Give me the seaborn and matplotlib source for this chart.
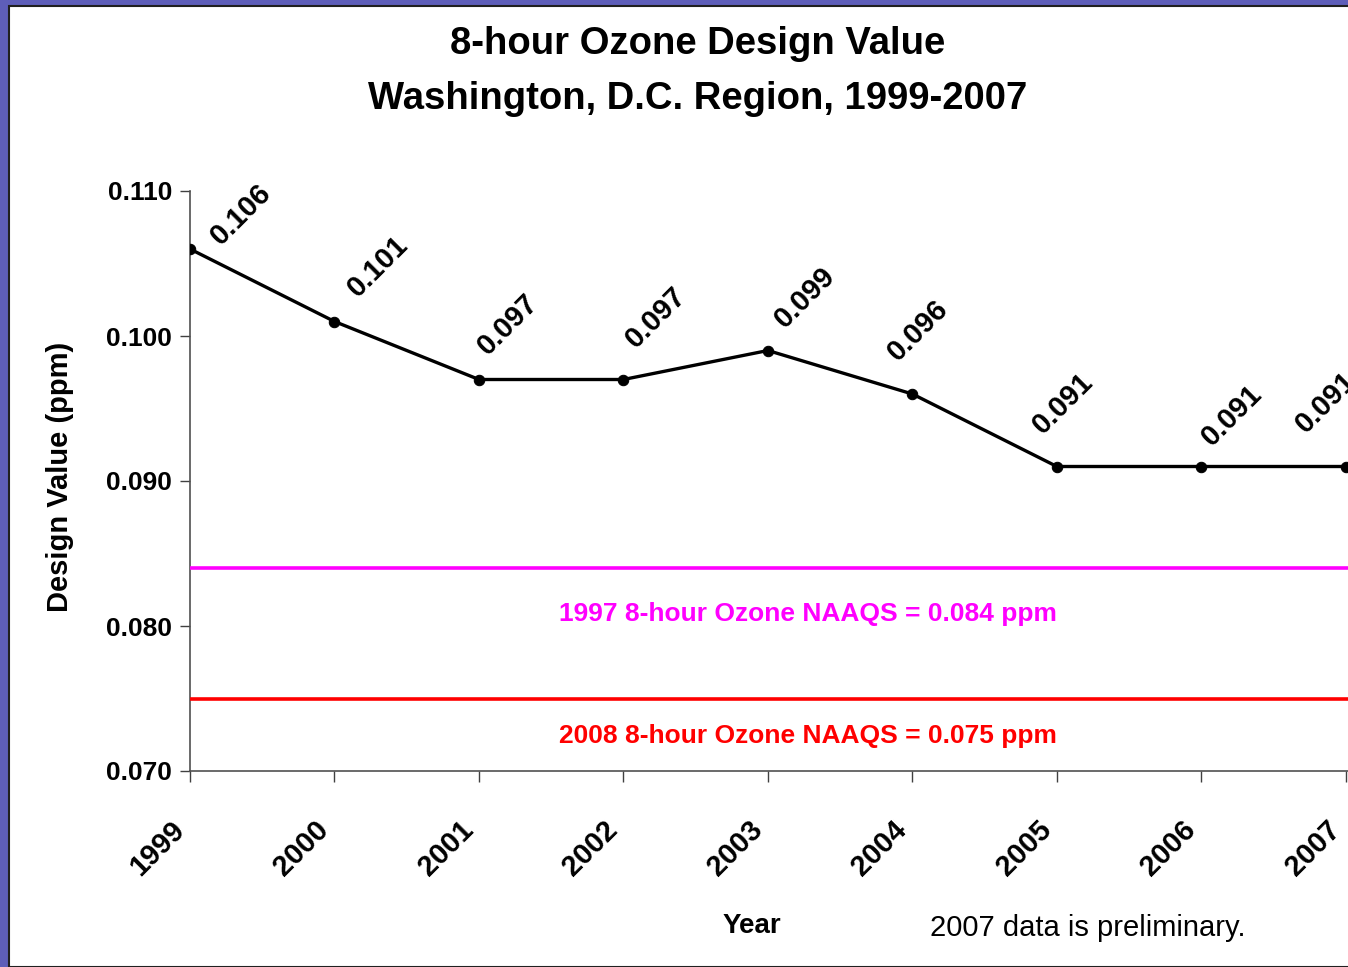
import matplotlib
matplotlib.use("Agg")
import matplotlib.pyplot as plt
from matplotlib.patches import Rectangle
import seaborn as sns
import pandas as pd

# Data
years = [1999, 2000, 2001, 2002, 2003, 2004, 2005, 2006, 2007]
design_values = [0.106, 0.101, 0.097, 0.097, 0.099, 0.096, 0.091, 0.091, 0.091]
naaqs_1997 = 0.084
naaqs_2008 = 0.075
y_ticks = [0.070, 0.080, 0.090, 0.100, 0.110]

# label offsets (pixels) as placed in the original slide
label_offsets = [(51, 35), (44, 55), (29, 55), (33, 62), (37, 53),
                 (6, 64), (6, 63), (31, 51), (-20, 64)]

sns.set_theme(style="ticks")
plt.rcParams["font.family"] = ["Liberation Sans", "DejaVu Sans"]
plt.rcParams["text.color"] = "black"
plt.rcParams["xtick.labelcolor"] = "black"
plt.rcParams["ytick.labelcolor"] = "black"
plt.rcParams["axes.labelcolor"] = "black"

W, H = 1348, 967
fig = plt.figure(figsize=(W / 100, H / 100), dpi=100)
fig.patch.set_facecolor("#5e5eb9")
fig.patches.append(Rectangle((9 / W, 0), 1, (H - 6) / H, transform=fig.transFigure,
                             facecolor="white", edgecolor="#202020", lw=1.5, zorder=-5))

ax = fig.add_axes([190 / W, 196 / H, 1158 / W, 580 / H])
ax.set_facecolor("none")

df = pd.DataFrame({"year": years, "value": design_values})
sns.lineplot(data=df, x="year", y="value", ax=ax, color="black", lw=2.4,
             marker="o", markersize=7.5, markeredgecolor="black", zorder=5)

ax.axhline(naaqs_1997, color="#ff00ff", lw=2.6, zorder=3)
ax.axhline(naaqs_2008, color="#ff0000", lw=2.6, zorder=3)

for (yr, val), (dx, dy) in zip(zip(years, design_values), label_offsets):
    ax.annotate(f"{val:.3f}", (yr, val), xytext=(dx, dy), textcoords="offset pixels",
                ha="center", va="center", rotation=45, fontsize=21,
                fontweight="bold", color="black", annotation_clip=False)

ax.text(0.534, 0.271, f"1997 8-hour Ozone NAAQS = {naaqs_1997:.3f} ppm",
        transform=ax.transAxes, ha="center", va="center", color="#ff00ff",
        fontsize=19, fontweight="bold")
ax.text(0.534, 0.060, f"2008 8-hour Ozone NAAQS = {naaqs_2008:.3f} ppm",
        transform=ax.transAxes, ha="center", va="center", color="#ff0000",
        fontsize=19, fontweight="bold")

ax.set_xlim(years[0], years[-1] + 0.015)
ax.set_ylim(y_ticks[0], y_ticks[-1])
ax.set_yticks(y_ticks)
ax.set_yticklabels([f"{t:.3f}" for t in y_ticks], fontsize=19, fontweight="bold")
ax.set_xticks(years)
ax.set_xticklabels([str(y) for y in years], rotation=45, ha="right",
                   fontsize=21, fontweight="bold")
ax.tick_params(axis="y", length=7, width=1, color="#404040", pad=6)
ax.tick_params(axis="x", length=8, width=1, color="#404040", pad=24)

sns.despine(ax=ax)
for side in ["left", "bottom"]:
    ax.spines[side].set_color("#505050")
    ax.spines[side].set_linewidth(1.2)

ax.set_xlabel("")
ax.set_ylabel("Design Value (ppm)", fontsize=21, fontweight="bold")
ax.yaxis.set_label_coords(-0.100, 0.507)

fig.text(698 / W, 1 - 44 / H, "8-hour Ozone Design Value", ha="center", va="center",
         fontsize=27.5, fontweight="bold")
fig.text(698 / W, 1 - 99 / H, "Washington, D.C. Region, 1999-2007", ha="center",
         va="center", fontsize=27.5, fontweight="bold")
fig.text(752 / W, 1 - 926 / H, "Year", ha="center", va="center",
         fontsize=20, fontweight="bold")
fig.text(930 / W, 1 - 928 / H, "2007 data is preliminary.", ha="left", va="center",
         fontsize=21)

fig.savefig("out.png", dpi=100, facecolor=fig.get_facecolor())
